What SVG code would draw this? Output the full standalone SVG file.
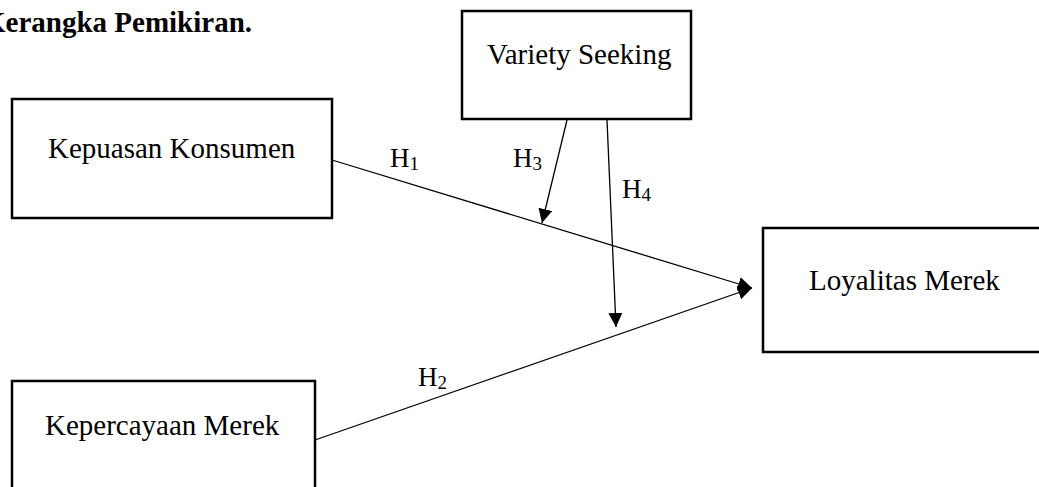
<svg xmlns="http://www.w3.org/2000/svg" width="1039" height="487" viewBox="0 0 1039 487">
<style>
.box{fill:#fff;stroke:#000;stroke-width:2.5}
.t{font-family:"Liberation Serif","Times New Roman",serif;font-size:29px;fill:#000}
.title{font-family:"Liberation Serif","Times New Roman",serif;font-size:29px;font-weight:bold;fill:#000}
.h{font-family:"Liberation Serif","Times New Roman",serif;font-size:27px;fill:#000}
.sub{font-size:19px}
.c{stroke:#000;stroke-width:1.3;fill:none}
</style>
<defs>
<marker id="ah" viewBox="0 0 14 14" refX="14" refY="7" markerWidth="14" markerHeight="14" markerUnits="userSpaceOnUse" orient="auto">
<path d="M0,0 L14,7 L0,14 Z" fill="#000"/>
</marker>
</defs>
<rect width="1039" height="487" fill="#fff"/>
<text class="title" x="-17" y="32">Kerangka Pemikiran.</text>
<g id="variety-seeking">
<rect class="box" x="462" y="11" width="229" height="108"/>
<text class="t" x="487" y="64">Variety Seeking</text>
</g>
<g id="kepuasan-konsumen">
<rect class="box" x="12" y="99" width="320" height="119"/>
<text class="t" x="48" y="158">Kepuasan Konsumen</text>
</g>
<g id="loyalitas-merek">
<rect class="box" x="763" y="228" width="290" height="124"/>
<text class="t" x="809" y="290">Loyalitas Merek</text>
</g>
<g id="kepercayaan-merek">
<rect class="box" x="12" y="381" width="303" height="120"/>
<text class="t" x="45" y="435">Kepercayaan Merek</text>
</g>
<g id="connectors">
<line class="c" x1="332" y1="160" x2="752" y2="288" marker-end="url(#ah)"/>
<line class="c" x1="315" y1="440" x2="752" y2="288" marker-end="url(#ah)"/>
<line class="c" x1="567" y1="120" x2="542" y2="223" marker-end="url(#ah)"/>
<line class="c" x1="607" y1="120" x2="616" y2="327" marker-end="url(#ah)"/>
</g>
<g id="labels">
<text class="h" x="390" y="167">H<tspan class="sub" dy="3">1</tspan></text>
<text class="h" x="513" y="167">H<tspan class="sub" dy="3">3</tspan></text>
<text class="h" x="622" y="198">H<tspan class="sub" dy="3">4</tspan></text>
<text class="h" x="418" y="386">H<tspan class="sub" dy="3">2</tspan></text>
</g>
</svg>
